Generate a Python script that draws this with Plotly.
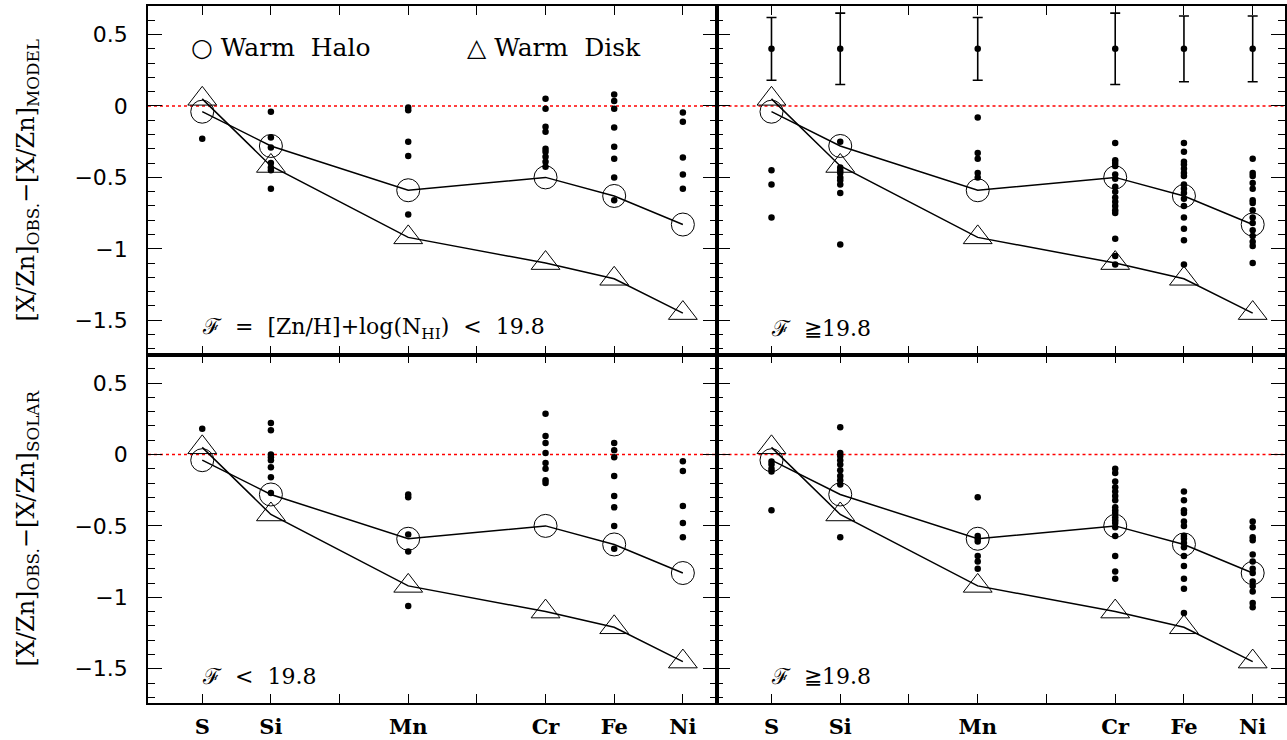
import plotly.graph_objects as go

# ---------------- data ----------------
elements = ["S", "Si", "Mn", "Cr", "Fe", "Ni"]
element_x = [1, 2, 4, 6, 7, 8]

# model predictions
warm_halo = [-0.04, -0.28, -0.59, -0.50, -0.63, -0.83]
warm_disk = [0.05, -0.42, -0.92, -1.10, -1.21, -1.45]

# typical error bar (top-right panel)
err_center = [0.40, 0.40, 0.40, 0.40, 0.40, 0.40]
err_size = [0.22, 0.25, 0.22, 0.25, 0.23, 0.23]

# observed points, per element (S, Si, Mn, Cr, Fe, Ni)
obs_model_low = [
    [-0.23],
    [-0.04, -0.22, -0.29, -0.40, -0.43, -0.45, -0.58],
    [-0.01, -0.03, -0.25, -0.35, -0.76],
    [0.05, -0.02, -0.145, -0.18, -0.30, -0.32, -0.355, -0.39, -0.425],
    [0.08, 0.035, -0.02, -0.15, -0.285, -0.37, -0.50, -0.66],
    [-0.045, -0.11, -0.36, -0.48, -0.58],
]
obs_model_high = [
    [-0.45, -0.55, -0.78],
    [-0.25, -0.43, -0.45, -0.47, -0.50, -0.52, -0.55, -0.61, -0.97],
    [-0.08, -0.33, -0.37, -0.47, -0.50],
    [-0.26, -0.38, -0.40, -0.42, -0.48, -0.51, -0.565, -0.60, -0.64, -0.67,
     -0.70, -0.73, -0.75, -0.93, -1.05, -1.11],
    [-0.26, -0.32, -0.39, -0.41, -0.44, -0.47, -0.49, -0.55, -0.58, -0.61,
     -0.65, -0.70, -0.78, -0.86, -0.94, -1.11],
    [-0.37, -0.47, -0.49, -0.54, -0.58, -0.66, -0.68, -0.73, -0.78, -0.82,
     -0.87, -0.91, -0.95, -0.98, -1.10],
]
obs_solar_low = [
    [0.18],
    [0.22, 0.17, 0.0, -0.02, -0.04, -0.09, -0.16, -0.27],
    [-0.28, -0.30, -0.56, -0.68, -1.06],
    [0.285, 0.13, 0.08, 0.01, -0.06, -0.10, -0.18, -0.20],
    [0.08, 0.03, -0.02, -0.15, -0.29, -0.37, -0.50, -0.66],
    [-0.047, -0.115, -0.36, -0.48, -0.58],
]
obs_solar_high = [
    [-0.05, -0.07, -0.10, -0.12, -0.39],
    [0.19, 0.01, -0.01, -0.04, -0.07, -0.11, -0.15, -0.18, -0.21, -0.58],
    [-0.30, -0.57, -0.59, -0.61, -0.71, -0.75, -0.80],
    [-0.10, -0.13, -0.19, -0.23, -0.26, -0.29, -0.32, -0.37, -0.39, -0.41,
     -0.44, -0.46, -0.48, -0.51, -0.57, -0.71, -0.82, -0.87],
    [-0.26, -0.32, -0.39, -0.41, -0.47, -0.50, -0.57, -0.59, -0.62, -0.65,
     -0.71, -0.78, -0.87, -0.94, -1.11],
    [-0.47, -0.51, -0.58, -0.60, -0.70, -0.75, -0.80, -0.83, -0.89, -0.92,
     -0.96, -1.04, -1.07],
]

y_title_model = "[X/Zn]<sub>OBS.</sub>−[X/Zn]<sub>MODEL</sub>"
y_title_solar = "[X/Zn]<sub>OBS.</sub>−[X/Zn]<sub>SOLAR</sub>"
panel_notes = [
    "ℱ  =  [Zn/H]+log(N<sub>HI</sub>)  &lt;  19.8",
    "ℱ  ≧19.8",
    "ℱ  &lt;  19.8",
    "ℱ  ≧19.8",
]

# ---------------- figure ----------------
SERIF = "DejaVu Serif"
fig = go.Figure()

panels = [
    ("x", "y", obs_model_low),
    ("x2", "y2", obs_model_high),
    ("x3", "y3", obs_solar_low),
    ("x4", "y4", obs_solar_high),
]

for xa, ya, obs in panels:
    xs, ys = [], []
    for ex, vals in zip(element_x, obs):
        xs += [ex] * len(vals)
        ys += vals
    fig.add_trace(go.Scatter(
        x=xs, y=ys, xaxis=xa, yaxis=ya, mode="markers",
        marker=dict(symbol="circle", size=6.5, color="black"),
        showlegend=False, hoverinfo="skip"))
    fig.add_trace(go.Scatter(
        x=element_x, y=warm_halo, xaxis=xa, yaxis=ya, mode="lines+markers",
        line=dict(color="black", width=1.5),
        marker=dict(symbol="circle-open", size=23, color="black",
                    line=dict(width=1)),
        name="Warm Halo", showlegend=False))
    fig.add_trace(go.Scatter(
        x=element_x, y=warm_disk, xaxis=xa, yaxis=ya, mode="lines+markers",
        line=dict(color="black", width=1.5),
        marker=dict(symbol="triangle-up-open", size=25, color="black",
                    line=dict(width=1)),
        name="Warm Disk", showlegend=False))

# typical error bars in top-right panel
fig.add_trace(go.Scatter(
    x=element_x, y=err_center, xaxis="x2", yaxis="y2", mode="markers",
    marker=dict(symbol="circle", size=6.5, color="black"),
    error_y=dict(type="data", array=err_size, visible=True, color="black",
                 thickness=1.6, width=5),
    showlegend=False))

col_dom = [[0.0, 0.5], [0.5, 1.0]]
row_dom = [[0.5, 1.0], [0.0, 0.5]]
ranges_x = [[0.21, 8.49], [0.20, 8.47]]
yrange = [-1.74, 0.70]

axis_common = dict(showline=True, linewidth=1.6, linecolor="black",
                   mirror="ticks", showgrid=False, zeroline=False,
                   ticks="inside", tickcolor="black", tickwidth=1.2)

layout = {}
for i in range(4):
    r, c = divmod(i, 2)
    sfx = "" if i == 0 else str(i + 1)
    layout["xaxis" + sfx] = dict(
        axis_common, domain=col_dom[c], range=ranges_x[c], anchor="y" + sfx,
        tickmode="array", tickvals=element_x, ticktext=elements, ticklen=9,
        minor=dict(dtick=1, tick0=0, ticks="inside", ticklen=9,
                   tickcolor="black", tickwidth=1.2, showgrid=False),
        showticklabels=(r == 1),
        tickfont=dict(family=SERIF, size=21, color="black", weight="bold"),
        ticklabelstandoff=4)
    yd = dict(
        axis_common, domain=row_dom[r], range=yrange, anchor="x" + sfx,
        tick0=0, dtick=0.5, ticklen=14,
        minor=dict(dtick=0.1, tick0=0, ticks="inside", ticklen=7,
                   tickcolor="black", tickwidth=1.2, showgrid=False),
        showticklabels=(c == 0),
        tickfont=dict(family="DejaVu Sans", size=22, color="black"),
        ticklabelstandoff=14)
    if c == 0:
        yd["title"] = dict(text=y_title_model if r == 0 else y_title_solar,
                           font=dict(family=SERIF, size=24, color="black"),
                           standoff=33)
    layout["yaxis" + sfx] = yd

shapes = []
annotations = []
for i in range(4):
    sfx = "" if i == 0 else str(i + 1)
    shapes.append(dict(type="line", xref=("x" + sfx + " domain"), yref="y" + sfx,
                       x0=0, x1=1, y0=0, y1=0, layer="below",
                       line=dict(color="red", width=1.5, dash="dot")))
    annotations.append(dict(text=panel_notes[i], xref="x" + sfx, yref="y" + sfx,
                            x=0.97, y=-1.555, xanchor="left", yanchor="middle",
                            showarrow=False,
                            font=dict(family=SERIF, size=22, color="black")))

annotations.append(dict(text="○ Warm  Halo", xref="x", yref="y", x=0.8, y=0.41,
                        xanchor="left", yanchor="middle", showarrow=False,
                        font=dict(family=SERIF, size=25, color="black")))
annotations.append(dict(text="△ Warm  Disk", xref="x", yref="y", x=4.82, y=0.41,
                        xanchor="left", yanchor="middle", showarrow=False,
                        font=dict(family=SERIF, size=25, color="black")))

fig.update_layout(
    width=1287, height=740,
    margin=dict(l=148, r=0, t=6, b=37),
    paper_bgcolor="white", plot_bgcolor="white",
    showlegend=False, shapes=shapes, annotations=annotations,
    **layout)

fig.write_html("out.html",
               config={"displayModeBar": False},
               post_script="document.body.style.margin='0';"
                           "document.body.style.overflow='hidden';")
